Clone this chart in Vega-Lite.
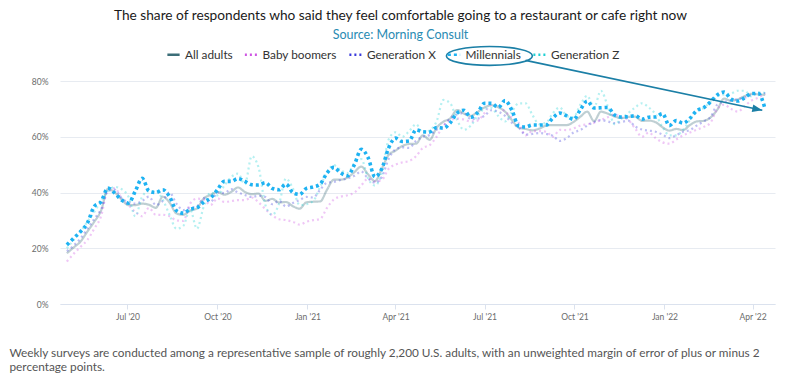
{
  "$schema": "https://vega.github.io/schema/vega-lite/v6.json",
  "width": 715,
  "height": 223,
  "autosize": {"type": "none"},
  "padding": {"left": 60, "top": 81, "right": 25, "bottom": 78},
  "background": "white",
  "title": {
    "text": "The share of respondents who said they feel comfortable going to a restaurant or cafe right now",
    "subtitle": "Source: Morning Consult",
    "anchor": "middle",
    "frame": "group",
    "dx": -17,
    "offset": 2,
    "font": "Lato",
    "fontSize": 13.7,
    "fontWeight": "normal",
    "color": "#1a1a1a",
    "subtitleFont": "Lato",
    "subtitleFontSize": 12.5,
    "subtitleColor": "#2a8bb3",
    "subtitlePadding": 6
  },
  "datasets": {
    "w": [
      {"date": "2020-04-30", "All adults": 18.2, "Baby boomers": 15.2, "Generation X": 19, "Millennials": 21.2, "Generation Z": 20},
      {"date": "2020-05-07", "All adults": 20.3, "Baby boomers": 18, "Generation X": 21, "Millennials": 23.6, "Generation Z": 23},
      {"date": "2020-05-14", "All adults": 22.4, "Baby boomers": 20.5, "Generation X": 23.5, "Millennials": 26, "Generation Z": 26},
      {"date": "2020-05-21", "All adults": 26, "Baby boomers": 23, "Generation X": 27, "Millennials": 29, "Generation Z": 29.5},
      {"date": "2020-05-28", "All adults": 29.5, "Baby boomers": 27, "Generation X": 30.5, "Millennials": 35, "Generation Z": 33},
      {"date": "2020-06-04", "All adults": 33.5, "Baby boomers": 31.5, "Generation X": 34, "Millennials": 36.7, "Generation Z": 37},
      {"date": "2020-06-11", "All adults": 41.3, "Baby boomers": 41, "Generation X": 40.5, "Millennials": 41.6, "Generation Z": 40.5},
      {"date": "2020-06-18", "All adults": 40, "Baby boomers": 41.5, "Generation X": 41, "Millennials": 39.8, "Generation Z": 42},
      {"date": "2020-06-25", "All adults": 37.5, "Baby boomers": 38, "Generation X": 38, "Millennials": 37.3, "Generation Z": 41.2},
      {"date": "2020-07-02", "All adults": 35.5, "Baby boomers": 35.5, "Generation X": 36.5, "Millennials": 36.2, "Generation Z": 38.5},
      {"date": "2020-07-09", "All adults": 35.5, "Baby boomers": 33, "Generation X": 36, "Millennials": 40.5, "Generation Z": 31.5},
      {"date": "2020-07-16", "All adults": 36, "Baby boomers": 31.5, "Generation X": 37, "Millennials": 45.1, "Generation Z": 38.5},
      {"date": "2020-07-23", "All adults": 35.6, "Baby boomers": 34.5, "Generation X": 38.5, "Millennials": 40.5, "Generation Z": 40.5},
      {"date": "2020-07-30", "All adults": 34.5, "Baby boomers": 32, "Generation X": 35.5, "Millennials": 40, "Generation Z": 40.5},
      {"date": "2020-08-06", "All adults": 38.5, "Baby boomers": 32, "Generation X": 37, "Millennials": 41, "Generation Z": 37.5},
      {"date": "2020-08-13", "All adults": 36.4, "Baby boomers": 31.5, "Generation X": 40, "Millennials": 38.5, "Generation Z": 32},
      {"date": "2020-08-20", "All adults": 32.5, "Baby boomers": 30, "Generation X": 36, "Millennials": 33.5, "Generation Z": 27},
      {"date": "2020-08-27", "All adults": 32, "Baby boomers": 29.8, "Generation X": 33.7, "Millennials": 32.6, "Generation Z": 28},
      {"date": "2020-09-03", "All adults": 33.5, "Baby boomers": 36, "Generation X": 34.5, "Millennials": 34, "Generation Z": 34},
      {"date": "2020-09-10", "All adults": 34.3, "Baby boomers": 37.8, "Generation X": 35, "Millennials": 34.5, "Generation Z": 27},
      {"date": "2020-09-17", "All adults": 37.9, "Baby boomers": 37.5, "Generation X": 38, "Millennials": 36.6, "Generation Z": 35},
      {"date": "2020-09-24", "All adults": 39.1, "Baby boomers": 35.5, "Generation X": 36.6, "Millennials": 38, "Generation Z": 40},
      {"date": "2020-10-01", "All adults": 40.2, "Baby boomers": 37.9, "Generation X": 40, "Millennials": 41, "Generation Z": 39},
      {"date": "2020-10-08", "All adults": 39.2, "Baby boomers": 36.6, "Generation X": 39.8, "Millennials": 44, "Generation Z": 42.5},
      {"date": "2020-10-15", "All adults": 40.2, "Baby boomers": 36.9, "Generation X": 41.2, "Millennials": 44, "Generation Z": 45.5},
      {"date": "2020-10-22", "All adults": 41.8, "Baby boomers": 37.3, "Generation X": 40, "Millennials": 45, "Generation Z": 46.8},
      {"date": "2020-10-29", "All adults": 40.2, "Baby boomers": 37.3, "Generation X": 39.1, "Millennials": 44, "Generation Z": 43},
      {"date": "2020-11-05", "All adults": 39.4, "Baby boomers": 38.2, "Generation X": 38.4, "Millennials": 42.8, "Generation Z": 53},
      {"date": "2020-11-12", "All adults": 39.6, "Baby boomers": 36.5, "Generation X": 38.8, "Millennials": 42.7, "Generation Z": 49},
      {"date": "2020-11-19", "All adults": 37, "Baby boomers": 34, "Generation X": 38.4, "Millennials": 43.5, "Generation Z": 35.5},
      {"date": "2020-11-26", "All adults": 37.7, "Baby boomers": 31.8, "Generation X": 35.8, "Millennials": 41.5, "Generation Z": 32},
      {"date": "2020-12-03", "All adults": 36.4, "Baby boomers": 30.4, "Generation X": 37, "Millennials": 41, "Generation Z": 36},
      {"date": "2020-12-10", "All adults": 36.6, "Baby boomers": 30.1, "Generation X": 35, "Millennials": 43, "Generation Z": 45},
      {"date": "2020-12-17", "All adults": 35.1, "Baby boomers": 29.5, "Generation X": 36.2, "Millennials": 40, "Generation Z": 41.5},
      {"date": "2020-12-24", "All adults": 34.2, "Baby boomers": 28.5, "Generation X": 37.3, "Millennials": 39.3, "Generation Z": 35.5},
      {"date": "2020-12-31", "All adults": 36.5, "Baby boomers": 29.5, "Generation X": 38.4, "Millennials": 41.5, "Generation Z": 35.8},
      {"date": "2021-01-07", "All adults": 36.7, "Baby boomers": 30.1, "Generation X": 38.2, "Millennials": 42, "Generation Z": 37},
      {"date": "2021-01-14", "All adults": 36.8, "Baby boomers": 30.5, "Generation X": 41, "Millennials": 43, "Generation Z": 42},
      {"date": "2021-01-21", "All adults": 41, "Baby boomers": 34.5, "Generation X": 43.5, "Millennials": 47, "Generation Z": 47.3},
      {"date": "2021-01-28", "All adults": 44.6, "Baby boomers": 37.5, "Generation X": 43.8, "Millennials": 49, "Generation Z": 49.8},
      {"date": "2021-02-04", "All adults": 44.6, "Baby boomers": 38.5, "Generation X": 44.5, "Millennials": 47, "Generation Z": 48},
      {"date": "2021-02-11", "All adults": 45.4, "Baby boomers": 39, "Generation X": 45, "Millennials": 46, "Generation Z": 47},
      {"date": "2021-02-18", "All adults": 47.3, "Baby boomers": 40, "Generation X": 46, "Millennials": 50, "Generation Z": 50.5},
      {"date": "2021-02-25", "All adults": 49.3, "Baby boomers": 42.5, "Generation X": 47.5, "Millennials": 55.5, "Generation Z": 52},
      {"date": "2021-03-04", "All adults": 46.5, "Baby boomers": 45, "Generation X": 45, "Millennials": 52.5, "Generation Z": 45},
      {"date": "2021-03-11", "All adults": 44.1, "Baby boomers": 44, "Generation X": 43.5, "Millennials": 45.6, "Generation Z": 42.5},
      {"date": "2021-03-18", "All adults": 48.5, "Baby boomers": 44.5, "Generation X": 45.6, "Millennials": 48.5, "Generation Z": 47},
      {"date": "2021-03-25", "All adults": 53.5, "Baby boomers": 48.5, "Generation X": 52, "Millennials": 56, "Generation Z": 59},
      {"date": "2021-04-01", "All adults": 55, "Baby boomers": 50, "Generation X": 55.5, "Millennials": 59.5, "Generation Z": 61.6},
      {"date": "2021-04-08", "All adults": 56.7, "Baby boomers": 50.8, "Generation X": 56.2, "Millennials": 58.3, "Generation Z": 60},
      {"date": "2021-04-15", "All adults": 57.4, "Baby boomers": 51.3, "Generation X": 56, "Millennials": 58.5, "Generation Z": 62},
      {"date": "2021-04-22", "All adults": 57.5, "Baby boomers": 53, "Generation X": 58.5, "Millennials": 62.5, "Generation Z": 64.5},
      {"date": "2021-04-29", "All adults": 60.5, "Baby boomers": 56, "Generation X": 60, "Millennials": 61.8, "Generation Z": 61.5},
      {"date": "2021-05-06", "All adults": 58.9, "Baby boomers": 57, "Generation X": 60.6, "Millennials": 61.7, "Generation Z": 62.3},
      {"date": "2021-05-13", "All adults": 63.2, "Baby boomers": 60, "Generation X": 62.5, "Millennials": 63.3, "Generation Z": 65.5},
      {"date": "2021-05-20", "All adults": 65.4, "Baby boomers": 64, "Generation X": 63.8, "Millennials": 63.1, "Generation Z": 73.2},
      {"date": "2021-05-27", "All adults": 66.6, "Baby boomers": 66, "Generation X": 66.7, "Millennials": 65, "Generation Z": 72},
      {"date": "2021-06-03", "All adults": 69.6, "Baby boomers": 66.5, "Generation X": 68, "Millennials": 68.5, "Generation Z": 66},
      {"date": "2021-06-10", "All adults": 68.3, "Baby boomers": 66.2, "Generation X": 68.5, "Millennials": 69.5, "Generation Z": 62.5},
      {"date": "2021-06-17", "All adults": 67.5, "Baby boomers": 65.5, "Generation X": 66.3, "Millennials": 67, "Generation Z": 64},
      {"date": "2021-06-24", "All adults": 68.9, "Baby boomers": 65.8, "Generation X": 66.5, "Millennials": 68.7, "Generation Z": 67.5},
      {"date": "2021-07-01", "All adults": 70.5, "Baby boomers": 68.5, "Generation X": 67.5, "Millennials": 72, "Generation Z": 70},
      {"date": "2021-07-08", "All adults": 71.3, "Baby boomers": 71.5, "Generation X": 69.5, "Millennials": 72, "Generation Z": 70.3},
      {"date": "2021-07-15", "All adults": 70.6, "Baby boomers": 71, "Generation X": 69, "Millennials": 70.5, "Generation Z": 67.5},
      {"date": "2021-07-22", "All adults": 69, "Baby boomers": 69, "Generation X": 67.5, "Millennials": 73, "Generation Z": 65.5},
      {"date": "2021-07-29", "All adults": 66, "Baby boomers": 67, "Generation X": 65, "Millennials": 69.5, "Generation Z": 69},
      {"date": "2021-08-05", "All adults": 63.3, "Baby boomers": 65, "Generation X": 63.2, "Millennials": 63.8, "Generation Z": 72},
      {"date": "2021-08-12", "All adults": 62.8, "Baby boomers": 60.5, "Generation X": 60.8, "Millennials": 63.5, "Generation Z": 72},
      {"date": "2021-08-19", "All adults": 62.3, "Baby boomers": 62, "Generation X": 61, "Millennials": 64.2, "Generation Z": 67.8},
      {"date": "2021-08-26", "All adults": 62.9, "Baby boomers": 62, "Generation X": 61.3, "Millennials": 64.2, "Generation Z": 64.5},
      {"date": "2021-09-02", "All adults": 64, "Baby boomers": 61.8, "Generation X": 61, "Millennials": 64.2, "Generation Z": 65},
      {"date": "2021-09-09", "All adults": 64.2, "Baby boomers": 60, "Generation X": 60.3, "Millennials": 66.8, "Generation Z": 68.5},
      {"date": "2021-09-16", "All adults": 64.2, "Baby boomers": 62.5, "Generation X": 58.5, "Millennials": 68.5, "Generation Z": 70.5},
      {"date": "2021-09-23", "All adults": 64.2, "Baby boomers": 62.4, "Generation X": 59.5, "Millennials": 67.5, "Generation Z": 67.5},
      {"date": "2021-09-30", "All adults": 65.3, "Baby boomers": 63, "Generation X": 61.5, "Millennials": 66.2, "Generation Z": 67},
      {"date": "2021-10-07", "All adults": 67.2, "Baby boomers": 64, "Generation X": 62.4, "Millennials": 69.7, "Generation Z": 71.5},
      {"date": "2021-10-14", "All adults": 69, "Baby boomers": 64.5, "Generation X": 64, "Millennials": 72.8, "Generation Z": 74.7},
      {"date": "2021-10-21", "All adults": 65.6, "Baby boomers": 65, "Generation X": 65.3, "Millennials": 70.3, "Generation Z": 70.5},
      {"date": "2021-10-28", "All adults": 69, "Baby boomers": 66, "Generation X": 66, "Millennials": 70.4, "Generation Z": 76.5},
      {"date": "2021-11-04", "All adults": 68.3, "Baby boomers": 67, "Generation X": 65.5, "Millennials": 70.5, "Generation Z": 71},
      {"date": "2021-11-11", "All adults": 67.3, "Baby boomers": 68, "Generation X": 64.9, "Millennials": 67.8, "Generation Z": 64.5},
      {"date": "2021-11-18", "All adults": 66.7, "Baby boomers": 67, "Generation X": 65.3, "Millennials": 67.1, "Generation Z": 66.5},
      {"date": "2021-11-25", "All adults": 67.1, "Baby boomers": 66, "Generation X": 65.8, "Millennials": 67.2, "Generation Z": 68.5},
      {"date": "2021-12-02", "All adults": 67.2, "Baby boomers": 63, "Generation X": 63.7, "Millennials": 67.6, "Generation Z": 70.5},
      {"date": "2021-12-09", "All adults": 65.7, "Baby boomers": 60, "Generation X": 62.6, "Millennials": 66.3, "Generation Z": 72},
      {"date": "2021-12-16", "All adults": 65.8, "Baby boomers": 61.5, "Generation X": 62.2, "Millennials": 67, "Generation Z": 70.5},
      {"date": "2021-12-23", "All adults": 65.2, "Baby boomers": 59.5, "Generation X": 61.8, "Millennials": 67.1, "Generation Z": 68},
      {"date": "2021-12-30", "All adults": 63.4, "Baby boomers": 58, "Generation X": 60.8, "Millennials": 68.3, "Generation Z": 63.5},
      {"date": "2022-01-06", "All adults": 62.2, "Baby boomers": 57.5, "Generation X": 59.5, "Millennials": 64, "Generation Z": 60.5},
      {"date": "2022-01-13", "All adults": 62.8, "Baby boomers": 59, "Generation X": 60.5, "Millennials": 65.8, "Generation Z": 60.5},
      {"date": "2022-01-20", "All adults": 62.4, "Baby boomers": 60.5, "Generation X": 61.8, "Millennials": 64.9, "Generation Z": 62.5},
      {"date": "2022-01-27", "All adults": 64.2, "Baby boomers": 61.5, "Generation X": 62.4, "Millennials": 66.6, "Generation Z": 66},
      {"date": "2022-02-03", "All adults": 65.5, "Baby boomers": 62.5, "Generation X": 64, "Millennials": 69.4, "Generation Z": 69.5},
      {"date": "2022-02-10", "All adults": 65.7, "Baby boomers": 63.5, "Generation X": 65.5, "Millennials": 70.4, "Generation Z": 70.3},
      {"date": "2022-02-17", "All adults": 66.9, "Baby boomers": 65, "Generation X": 67, "Millennials": 72.5, "Generation Z": 72.5},
      {"date": "2022-02-24", "All adults": 69.7, "Baby boomers": 70, "Generation X": 71.5, "Millennials": 75, "Generation Z": 74.5},
      {"date": "2022-03-03", "All adults": 73.7, "Baby boomers": 71.5, "Generation X": 72.5, "Millennials": 76, "Generation Z": 75.2},
      {"date": "2022-03-10", "All adults": 72.9, "Baby boomers": 70, "Generation X": 73, "Millennials": 73.5, "Generation Z": 75.5},
      {"date": "2022-03-17", "All adults": 73.4, "Baby boomers": 69, "Generation X": 73.5, "Millennials": 72.8, "Generation Z": 76.5},
      {"date": "2022-03-24", "All adults": 74.6, "Baby boomers": 71, "Generation X": 74, "Millennials": 74, "Generation Z": 76.5},
      {"date": "2022-03-31", "All adults": 75.4, "Baby boomers": 73, "Generation X": 75, "Millennials": 75.5, "Generation Z": 74.5},
      {"date": "2022-04-07", "All adults": 75.2, "Baby boomers": 74, "Generation X": 75.5, "Millennials": 75.5, "Generation Z": 76},
      {"date": "2022-04-14", "All adults": 75, "Baby boomers": 75.5, "Generation X": 75.7, "Millennials": 69.8, "Generation Z": 75.7}
    ],
    "arrow": [
      {"d1": "2021-08-12", "v1": 87.4, "d2": "2022-04-11", "v2": 69.5}
    ],
    "ring": [
      {"d": "2021-07-06", "v": 89.0}
    ]
  },
  "encoding": {
    "x": {
      "field": "date",
      "type": "temporal",
      "scale": {"domain": [{"year": 2020, "month": 4, "date": 23}, {"year": 2022, "month": 4, "date": 24}]},
      "axis": {
        "values": [
          {"year": 2020, "month": 7, "date": 1},
          {"year": 2020, "month": 10, "date": 1},
          {"year": 2021, "month": 1, "date": 1},
          {"year": 2021, "month": 4, "date": 1},
          {"year": 2021, "month": 7, "date": 1},
          {"year": 2021, "month": 10, "date": 1},
          {"year": 2022, "month": 1, "date": 1},
          {"year": 2022, "month": 4, "date": 1}
        ],
        "format": "%b '%y",
        "grid": false,
        "domainColor": "#dbe2ee",
        "tickColor": "#dbe2ee",
        "tickSize": 5,
        "labelFont": "Lato",
        "labelFontSize": 8.5,
        "labelColor": "#6b6b6b",
        "labelPadding": 3,
        "title": ["Weekly surveys are conducted among a representative sample of roughly 2,200 U.S. adults, with an unweighted margin of error of plus or minus 2", "percentage points."],
        "titleFont": "Lato",
        "titleFontSize": 11.8,
        "titleFontWeight": "normal",
        "titleColor": "#555555",
        "titleAlign": "left",
        "titleAnchor": "start",
        "titleBaseline": "alphabetic",
        "titleX": -51,
        "titleY": 52,
        "titleLineHeight": 14
      }
    },
    "y": {
      "field": "value",
      "type": "quantitative",
      "scale": {"domain": [0, 80], "nice": false},
      "axis": {
        "values": [0, 20, 40, 60, 80],
        "labelExpr": "datum.value + '%'",
        "grid": true,
        "gridColor": "#e7ebf1",
        "domain": false,
        "ticks": false,
        "labelFont": "Lato",
        "labelFontSize": 8.5,
        "labelColor": "#6b6b6b",
        "labelPadding": 12,
        "title": null
      }
    }
  },
  "layer": [
    {
      "data": {"name": "w"},
      "transform": [
        {"fold": ["All adults", "Baby boomers", "Generation X", "Generation Z"], "as": ["series", "value"]}
      ],
      "mark": {"type": "line", "strokeWidth": 2.2, "opacity": 0.33, "interpolate": "monotone"},
      "encoding": {
        "color": {
          "field": "series",
          "type": "nominal",
          "scale": {
            "domain": ["All adults", "Baby boomers", "Generation X", "Millennials", "Generation Z"],
            "range": ["#3c6e78", "#cf55e3", "#3b3bdc", "#1eb2f2", "#1fd0d3"]
          },
          "legend": {
            "title": null,
            "orient": "none",
            "direction": "horizontal",
            "legendX": 106,
            "legendY": -34,
            "padding": 0,
            "columnPadding": 6.5,
            "symbolType": "stroke",
            "symbolSize": 150,
            "symbolStrokeWidth": 2.5,
            "symbolOpacity": 1,
            "labelFont": "Lato",
            "labelFontSize": 11.8,
            "labelColor": "#333333",
            "labelOffset": 4
          }
        },
        "strokeDash": {
          "field": "series",
          "type": "nominal",
          "scale": {
            "domain": ["All adults", "Baby boomers", "Generation X", "Millennials", "Generation Z"],
            "range": [[1, 0], [2, 3], [2, 3], [3, 3], [2, 3]]
          },
          "legend": {"title": null}
        }
      }
    },
    {
      "data": {"name": "w"},
      "transform": [
        {"fold": ["Millennials"], "as": ["series", "value"]}
      ],
      "mark": {"type": "line", "strokeWidth": 3.6, "opacity": 1, "interpolate": "monotone"},
      "encoding": {
        "color": {"field": "series", "type": "nominal"},
        "strokeDash": {"field": "series", "type": "nominal"}
      }
    },
    {
      "data": {"name": "arrow"},
      "mark": {"type": "rule", "color": "#1b7fa6", "strokeWidth": 1.6, "clip": false},
      "encoding": {
        "x": {"field": "d1", "type": "temporal"},
        "y": {"field": "v1", "type": "quantitative"},
        "x2": {"field": "d2"},
        "y2": {"field": "v2"}
      }
    },
    {
      "data": {"name": "arrow"},
      "mark": {"type": "point", "shape": "M -2 -0.75 L 0 0 L -2 0.75 Z", "filled": true, "color": "#1b7fa6", "opacity": 1, "size": 100, "angle": 11.8, "clip": false},
      "encoding": {
        "x": {"field": "d2", "type": "temporal"},
        "y": {"field": "v2", "type": "quantitative"}
      }
    },
    {
      "data": {"name": "ring"},
      "mark": {"type": "point", "shape": "M -1 0 A 1 0.22 0 1 1 1 0 A 1 0.22 0 1 1 -1 0 Z", "filled": false, "color": "#1b7fa6", "strokeWidth": 1.6, "opacity": 1, "size": 7396, "clip": false},
      "encoding": {
        "x": {"field": "d", "type": "temporal"},
        "y": {"field": "v", "type": "quantitative"}
      }
    }
  ],
  "config": {
    "view": {"stroke": null}
  }
}
